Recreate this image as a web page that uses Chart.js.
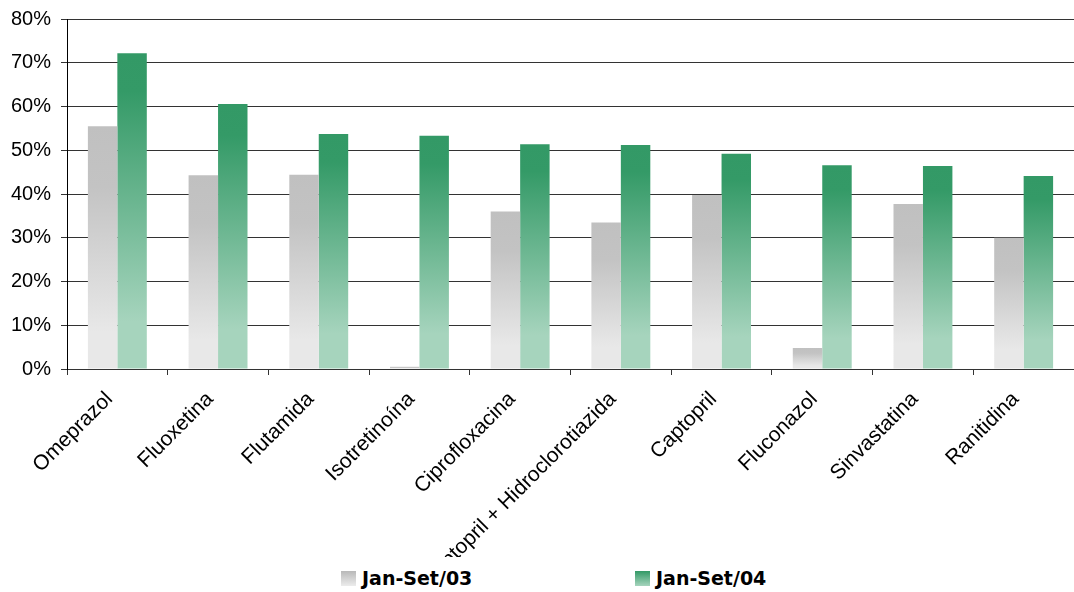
<!DOCTYPE html>
<html lang="pt">
<head>
    <meta charset="UTF-8">
    <title>Jan-Set/03 x Jan-Set/04</title>
    <script src="https://cdn.jsdelivr.net/npm/chart.js"></script>
    <style>
        html, body { margin: 0; padding: 0; background: #fff; }
        #wrap { position: relative; width: 1074px; height: 557px; }
        #legend { position: relative; height: 35px; font-family: "DejaVu Sans", Verdana, sans-serif; font-weight: bold; font-size: 19px; color: #000; }
        .item { position: absolute; top: 10px; display: flex; align-items: center; }
        .box { width: 15px; height: 15px; margin-right: 6px; }
    </style>
</head>
<body>
    <div id="wrap">
        <canvas id="chart"></canvas>
    </div>
    <div id="legend">
        <div class="item" style="left:341px"><span class="box" style="background:linear-gradient(#b8b8b8,#ececec)"></span>Jan-Set/03</div>
        <div class="item" style="left:635px"><span class="box" style="background:linear-gradient(#339966,#a6d4bd)"></span>Jan-Set/04</div>
    </div>
    <script>
        // Data
        const categories = ['Omeprazol', 'Fluoxetina', 'Flutamida', 'Isotretinoína', 'Ciprofloxacina',
            'Captopril + Hidroclorotiazida', 'Captopril', 'Fluconazol', 'Sinvastatina', 'Ranitidina'];
        const jan03 = [55.5, 44.3, 44.4, 0.5, 36.0, 33.5, 39.8, 4.8, 37.7, 30.0];
        const jan04 = [72.2, 60.6, 53.7, 53.3, 51.4, 51.2, 49.2, 46.6, 46.4, 44.1];
        const yTicks = [0, 10, 20, 30, 40, 50, 60, 70, 80];

        // Per-bar vertical gradient, dark at the top of the bar and light at the base
        function barGradient(stops) {
            return function (c) {
                const chart = c.chart;
                if (!chart.chartArea || c.raw === undefined) return stops[0][1];
                const y = chart.scales.y;
                const top = y.getPixelForValue(c.raw);
                const base = y.getPixelForValue(0);
                if (base - top < 1) return stops[stops.length - 1][1];
                const g = chart.ctx.createLinearGradient(0, top, 0, base);
                stops.forEach(s => g.addColorStop(s[0], s[1]));
                return g;
            };
        }

        const ctx = document.getElementById('chart').getContext('2d');
        new Chart(ctx, {
            type: 'bar',
            data: {
                labels: categories,
                datasets: [{
                    label: 'Jan-Set/03',
                    data: jan03,
                    backgroundColor: barGradient([[0, '#c0c0c0'], [0.25, '#c3c3c3'], [0.85, '#e8e8e8'], [1, '#e8e8e8']])
                }, {
                    label: 'Jan-Set/04',
                    data: jan04,
                    backgroundColor: barGradient([[0, '#339966'], [0.12, '#349a67'], [0.85, '#a6d4bd'], [1, '#a6d4bd']])
                }]
            },
            options: {
                responsive: true,
                maintainAspectRatio: false,
                animation: false,
                datasets: {
                    bar: { categoryPercentage: 0.585, barPercentage: 1.0, borderWidth: 0 }
                },
                layout: { padding: { top: 19, left: 8, right: 0, bottom: 0 } },
                plugins: {
                    legend: { display: false },
                    tooltip: { enabled: false }
                },
                scales: {
                    x: {
                        grid: { display: true, drawOnChartArea: false, offset: true, color: '#333', tickLength: 6 },
                        border: { color: '#333', width: 1 },
                        ticks: {
                            autoSkip: false, minRotation: 45, maxRotation: 45, padding: 12, labelOffset: -8,
                            color: '#000', font: { family: 'Liberation Sans, Arial, sans-serif', size: 21 }
                        },
                        afterFit: scale => { scale.height = 188; }
                    },
                    y: {
                        min: 0, max: 80,
                        afterBuildTicks: scale => { scale.ticks = yTicks.map(v => ({ value: v })); },
                        grid: { color: '#333', tickLength: 6 },
                        border: { color: '#000', width: 1 },
                        ticks: {
                            padding: 10, color: '#000',
                            font: { family: 'Liberation Sans, Arial, sans-serif', size: 20 },
                            callback: v => v + '%'
                        },
                        afterFit: scale => { scale.width = 59; scale.paddingTop = 0; scale.paddingBottom = 0; }
                    }
                }
            }
        });
    </script>
</body>
</html>
